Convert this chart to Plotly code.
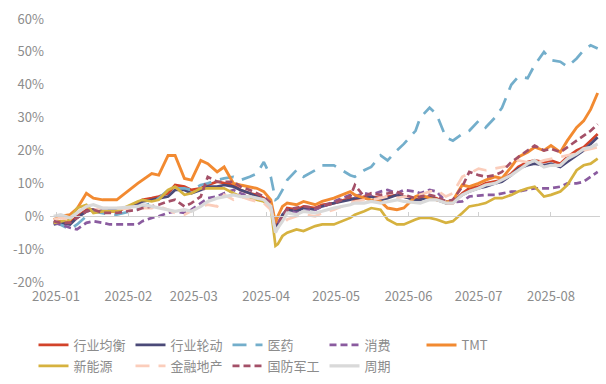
import plotly.graph_objects as go

dates = ["2024-12-31","2025-01-03","2025-01-07","2025-01-10","2025-01-14","2025-01-17","2025-01-21","2025-01-24","2025-01-27",
         "2025-02-05","2025-02-07","2025-02-11","2025-02-14","2025-02-18","2025-02-21","2025-02-25","2025-02-28",
         "2025-03-04","2025-03-07","2025-03-11","2025-03-14","2025-03-18","2025-03-21","2025-03-25","2025-03-28","2025-03-31",
         "2025-04-03","2025-04-05","2025-04-06","2025-04-08","2025-04-10",
         "2025-04-14","2025-04-17","2025-04-22","2025-04-25","2025-04-30",
         "2025-05-07","2025-05-09","2025-05-13","2025-05-16","2025-05-20","2025-05-23","2025-05-27","2025-05-30",
         "2025-06-04","2025-06-06","2025-06-10","2025-06-13","2025-06-17","2025-06-20","2025-06-24","2025-06-27",
         "2025-07-01","2025-07-04","2025-07-08","2025-07-11","2025-07-15","2025-07-18","2025-07-22","2025-07-25","2025-07-29",
         "2025-08-01","2025-08-05","2025-08-08","2025-08-12","2025-08-15","2025-08-18","2025-08-21"]

hangye_junheng = [-2,-1.5,-2,0,2,2,1.5,1.5,1.5,
                  4,5,5.5,6,7,9.5,9,8,
                  8.5,9.5,10.5,10,9.5,8,7,6.5,5.5,
                  3,-3.5,-2,0,2.5,
                  2,3,2.5,3.5,4,
                  5.5,5,6,6,5.5,6,6.5,6,
                  5,5.5,6,5.5,4,4,7,8.5,
                  9,10,10.5,11,13,15,16.5,17,16.5,
                  17,16,18,20,21,23,25]
hangye_lundong = [-2.5,-2,-2.5,-0.5,1.5,2,2,2,2,
                  3.5,4.5,5,5.5,6,8,8,7,
                  8,9,9,9.5,9,8,7,6,5,
                  3,-4,-2.5,0.5,2,
                  1.5,2.5,2,3,4,
                  5,5.5,5.5,6,5,5.5,6.5,6,
                  5,5,6,5,4,4.5,6.5,7.5,
                  8.5,9,10,10.5,12.5,14.5,15.5,16,15.5,
                  16,15,16.5,18.5,20,22,24]
yiyao = [-1.5,-2.5,-4,-2.5,0,1.5,1,0.5,0.5,
         2,3,4,5.5,8,8.5,8.5,8,
         9.5,10,11,11.5,12,11,12,13,16.5,
         12,5,5.5,8,11,
         14,12,14,15.5,15.5,
         12.5,12,14,15,18.5,17,20,22,
         26,30,33,31,24,23,25,26,
         29,27,30,33,40,42.5,42,46,50,
         47.5,47,45.5,48,50.5,52,51]
xiaofei = [-2,-2.5,-3.5,-4,-2,-1.5,-2,-2.5,-2.5,
           -2.5,-1.5,-0.5,0,1,1.5,1,2,
           4,5.5,6,7,8,7,6,5,5,
           3,-4,-2,0,2,
           1,1.5,2,3,4.5,
           6.5,6,7,6.5,7.5,8,7,8,
           7.5,7,8,7.5,4.5,4.3,4.5,6,
           6.3,6.5,6.5,7,7.5,7.5,8,8.5,8.5,
           8.5,9,10,10,10.5,12,13.5]
tmt = [-1,0,0.5,2.3,7,5.5,5,5,5,
       10,11,13,12.5,18.5,18.5,11.5,11,
       17,16,13.5,15,10,9.5,9,8.5,7.5,
       5,-2,0,3,4,
       3.5,4.5,3.5,4.5,5.5,
       7.5,6.5,5.5,5,4.5,2.5,2,2.5,
       6,6.5,5.5,5,4.3,4.8,9.5,9,
       10,11,12,11.5,15,18,19.5,21,20,
       21.5,19.5,23,27,29,32.5,37.5]
xinnengyuan = [-2,-1.5,-1,2.5,3.5,1,1.5,1.5,1.5,
               4.5,5,4.5,5,8,9,6.5,7,
               8.5,8.5,8.5,8.5,7,6,5.5,5,4.5,
               2.5,-9,-8.5,-6,-5,
               -4,-4.5,-3,-2.5,-2.5,
               -0.5,0.5,1.5,2.5,2,-1,-2.5,-2.5,
               -1,-0.5,-0.5,-1,-2,-1.5,1,3,
               3.5,4,5.5,5.5,6.5,7.5,8.5,9,6,
               6.5,7.5,9.5,14,15.5,16,17.5]
jinrong_dichan = [-1,-0.5,-1,1,3,2,2.5,2.5,2.5,
                  2,2.5,2.5,3,2,1,0.5,1.5,
                  3,3.5,3,6.5,5,6,5,4.5,4,
                  2,-4.5,-3.5,-2.5,-1,
                  0,0.5,0,1,2,
                  4,4.5,5,5,5.5,6,5.5,6,
                  6,6.5,7.5,8,6,7,12,13,
                  14.5,14,14.5,15,15.5,17,16.5,16,17,
                  17.5,18,18.5,19,20,20.5,21]
guofang_jungong = [-1.5,-2,-2,-0.5,1.5,2,1,1,1,
                   2,2.5,3,3.5,4.5,5,3,4,
                   6,12,10.5,10.5,10.5,9,8,7,6,
                   4,-4.5,-3,0,2,
                   2.5,3,2.5,3,4,
                   6,9.5,6,7,6.5,7,7.5,6.5,
                   5.5,6,6.5,6,4.5,5,9,13.5,
                   12.5,12,12.5,13.5,16.5,18,20,21.5,20,
                   20.5,19.5,21,23,24.5,26,28]
zhouqi = [0,0.5,-0.5,1,3,3.5,2.5,2.5,2.5,
          3,3.5,3,2.5,2,1.5,2,1.5,
          3,4.5,5.5,6,6.5,6,6,5.5,5,
          3,-5,-3.5,-1.5,1,
          0.5,1.5,1,1.5,2.5,
          3.5,4,4,4.5,4,4.5,5,4.5,
          4,4,5,5,4,4,6.5,7.5,
          8.5,9.5,10,11,12.5,14,16,17,15,
          15.5,15.5,17.5,19,20.5,21,22]

series_names = ["行业均衡","行业轮动","医药","消费","TMT","新能源","金融地产","国防军工","周期"]
series_values = [hangye_junheng, hangye_lundong, yiyao, xiaofei, tmt, xinnengyuan, jinrong_dichan, guofang_jungong, zhouqi]
colors = ["#D2432A","#4B4A78","#73AECB","#8A5B9F","#F28A31","#D6B23F","#FBCDBB","#A45068","#D9D9D9"]
dashes = ["solid","solid","14px,9px","7px,4px","solid","solid","14px,9px","7px,4px","solid"]
widths = [2.7,2.7,2.7,2.7,2.9,2.7,2.7,2.7,3.2]
tick_vals = ["2025-01-01","2025-02-01","2025-03-01","2025-04-01","2025-05-01","2025-06-01","2025-07-01","2025-08-01"]
tick_text = ["2025-01","2025-02","2025-03","2025-04","2025-05","2025-06","2025-07","2025-08"]

FONT = "Noto Sans CJK SC"
GRAY = "#8C8C8C"

fig = go.Figure()
for i, (name, vals) in enumerate(zip(series_names, series_values)):
    fig.add_trace(go.Scatter(
        x=dates, y=vals, mode="lines", name=name,
        line=dict(color=colors[i], width=widths[i], dash=dashes[i]),
        legend="legend" if i < 5 else "legend2",
    ))

xr = ["2024-12-29 10:00", "2025-08-22 00:00"]
fig.update_layout(
    width=606, height=384,
    margin=dict(l=50, r=6, t=19, b=102, autoexpand=False),
    paper_bgcolor="white", plot_bgcolor="white",
    font=dict(family=FONT, color=GRAY, size=13),
    xaxis=dict(type="date", range=xr, tickvals=tick_vals, ticktext=tick_text,
               showgrid=False, zeroline=False, showline=False, ticks="",
               ticklabelstandoff=5, tickfont=dict(size=13, color=GRAY)),
    xaxis2=dict(type="date", range=xr, tickvals=tick_vals, overlaying="x",
                anchor="free", position=0.25, showgrid=False, zeroline=False,
                showline=True, linecolor="#D0D0D0", linewidth=1,
                ticks="inside", ticklen=4, tickcolor="#D0D0D0",
                showticklabels=False),
    yaxis=dict(range=[-20, 60], tickvals=[-20,-10,0,10,20,30,40,50,60],
               ticktext=["-20%","-10%","0%","10%","20%","30%","40%","50%","60%"],
               showgrid=False, zeroline=False, showline=False, ticklabelstandoff=5,
               tickfont=dict(size=13, color=GRAY)),
    legend=dict(orientation="h", x=-0.030, xanchor="left", y=-0.2395, yanchor="middle",
                entrywidth=52, entrywidthmode="pixels", font=dict(size=13, color=GRAY),
                bgcolor="rgba(0,0,0,0)", tracegroupgap=0),
    legend2=dict(orientation="h", x=-0.030, xanchor="left", y=-0.319, yanchor="middle",
                 entrywidth=52, entrywidthmode="pixels", font=dict(size=13, color=GRAY),
                 bgcolor="rgba(0,0,0,0)", tracegroupgap=0),
    showlegend=True,
)
fig.add_trace(go.Scatter(x=[dates[0]], y=[0], xaxis="x2", mode="lines",
                         showlegend=False, hoverinfo="skip",
                         line=dict(color="rgba(0,0,0,0)")))
fig.write_html("out.html", config={"displayModeBar": False},
               post_script="document.body.style.margin='0px';document.body.style.overflow='hidden';")
